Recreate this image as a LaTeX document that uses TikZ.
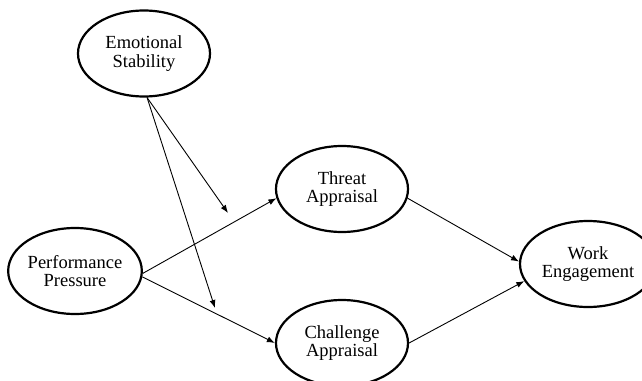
\documentclass[tikz,border=0pt]{standalone}
\usepackage{fontspec}
\setmainfont{Liberation Serif}
\usepackage{tikz}
\usetikzlibrary{shapes.geometric, arrows.meta}

\begin{document}
\begin{tikzpicture}[x=1pt, y=-1pt,
    construct/.style={ellipse, draw=black, line width=2.2pt,
        minimum width=132pt, minimum height=86pt, inner sep=0pt,
        align=center, font=\fontsize{18.5}{18.5}\selectfont},
    path/.style={draw=black, line width=0.9pt,
        -{Latex[length=8pt, width=6pt]}}]
    \useasboundingbox (0,0) rectangle (642,380);
    \node[construct] (es) at (144, 53.5) {Emotional\\Stability};
    \node[construct] (pp) at (75, 271) {Performance\\Pressure};
    \node[construct] (ta) at (342, 189) {Threat\\Appraisal};
    \node[construct] (ca) at (342, 343) {Challenge\\Appraisal};
    \node[construct, minimum width=136pt] (we) at (588, 264) {Work\\Engagement};
    \coordinate (m1) at (228, 213);
    \coordinate (m2) at (215, 308);
    \draw[path] (pp.-2) -- (ta.188);
    \draw[path] (pp.-5) -- (ca.west);
    \draw[path] (ta.-8) -- (we.178);
    \draw[path] (ca.east) -- (we.195);
    \foreach \m in {m1, m2}{
        \draw[path] (es.-86) -- (\m);
    }
\end{tikzpicture}
\end{document}
